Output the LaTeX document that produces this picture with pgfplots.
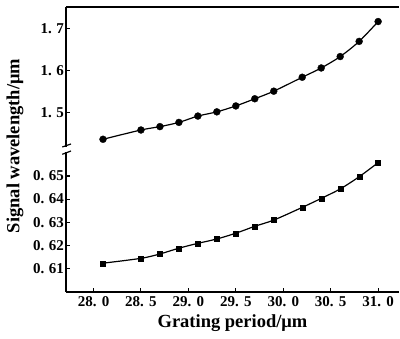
\documentclass[border=0pt]{standalone}
\usepackage{fontspec}
\setmainfont{Liberation Serif}
\usepackage{pgfplots}
\pgfplotsset{compat=1.18}
\pgfplotstableread{
x      top    bot
28.1   1.437  0.6122
28.5   1.459  0.6143
28.7   1.467  0.6162
28.9   1.477  0.6187
29.1   1.492  0.6208
29.3   1.502  0.6227
29.5   1.516  0.6252
29.7   1.533  0.6282
29.9   1.551  0.6309
30.2   1.584  0.6364
30.4   1.606  0.6403
30.6   1.633  0.6444
30.8   1.669  0.6497
31.0   1.716  0.6558
}\datatable
\begin{document}
\begin{tikzpicture}
\path[use as bounding box] (0pt,0pt) rectangle (400pt,339pt);
\pgfplotsset{
  base/.style={
    scale only axis, width=333pt, xmin=27.71, xmax=31.22,
    axis line style={-, line width=1.3pt},
    tick style={line width=1.1pt, black},
    tick align=inside, major tick length=4pt,
    ticklabel style={font=\fontsize{15}{15}\selectfont\bfseries, inner sep=2pt},
    clip=false,
  }
}
\begin{axis}[base, at={(66pt,47pt)}, anchor=south west, height=142pt,
  axis x line*=bottom, axis y line*=left,
  ymin=0.5997, ymax=0.6613,
  xtick={28,28.5,29,29.5,30,30.5,31},
  xticklabels={28.\hspace{0.35em}0,28.\hspace{0.35em}5,29.\hspace{0.35em}0,29.\hspace{0.35em}5,30.\hspace{0.35em}0,30.\hspace{0.35em}5,31.\hspace{0.35em}0},
  xticklabel style={yshift=-2pt},
  ytick={0.61,0.62,0.63,0.64,0.65},
  yticklabels={0.\hspace{0.3em}61,0.\hspace{0.3em}62,0.\hspace{0.3em}63,0.\hspace{0.3em}64,0.\hspace{0.3em}65},
  xlabel={Grating period/μm},
  xlabel style={font=\fontsize{18.5}{18.5}\selectfont\bfseries, yshift=-3pt},
]
\addplot[black, line width=1.2pt, smooth, mark=square*, mark size=2.5pt, mark options={solid, line width=0.3pt}] table[x=x, y=bot] {\datatable};
\end{axis}
\begin{axis}[base, at={(66pt,189pt)}, anchor=south west, height=143pt,
  axis x line*=top, axis y line*=left, xtick=\empty,
  ymin=1.4116, ymax=1.7505,
  ytick={1.5,1.6,1.7},
  yticklabels={1.\hspace{0.3em}5,1.\hspace{0.3em}6,1.\hspace{0.3em}7},
]
\addplot[black, line width=1.2pt, smooth, mark=*, mark size=3.5pt, mark options={solid, line width=0.3pt}] table[x=x, y=top] {\datatable};
\end{axis}
\fill[white] (63pt,187pt) rectangle (70pt,192pt);
\draw[line width=1.2pt] (62.3pt,192pt) -- (71pt,195pt);
\draw[line width=1.2pt] (62.3pt,184.7pt) -- (71pt,188pt);
\node[rotate=90, font=\fontsize{18.5}{18.5}\selectfont\bfseries] at (15pt,193pt) {Signal wavelength/μm};
\end{tikzpicture}
\end{document}
